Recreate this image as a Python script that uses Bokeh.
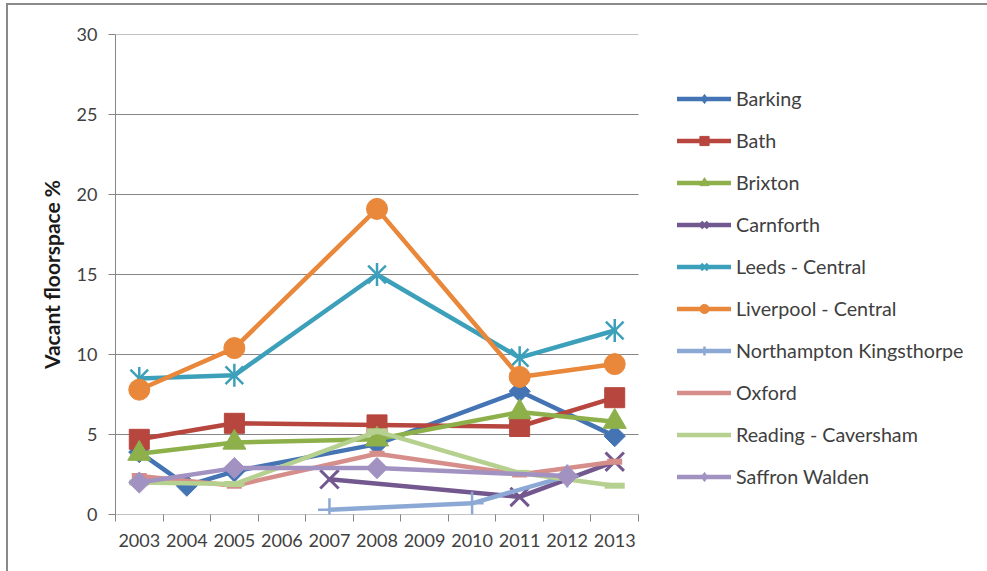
import math

from bokeh.embed import file_html
from bokeh.models import FixedTicker, Legend, LegendItem, Range1d
from bokeh.plotting import figure
from bokeh.resources import INLINE

# Survey years (category axis)
years = ["2003", "2004", "2005", "2006", "2007", "2008",
         "2009", "2010", "2011", "2012", "2013"]
y_ticks = [0, 5, 10, 15, 20, 25, 30]

# Vacant floorspace % per centre; None = no survey that year
barking = [3.9, 1.8, 2.7, None, None, 4.4, None, None, 7.7, None, 4.9]
bath = [4.7, None, 5.7, None, None, 5.6, None, None, 5.5, None, 7.3]
brixton = [3.8, None, 4.5, None, None, 4.7, None, None, 6.4, None, 5.8]
carnforth = [None, None, None, None, 2.2, None, None, None, 1.1, None, 3.3]
leeds = [8.5, None, 8.7, None, None, 15.0, None, None, 9.8, None, 11.5]
liverpool = [7.8, None, 10.4, None, None, 19.1, None, None, 8.6, None, 9.4]
northampton = [None, None, None, None, 0.3, None, None, 0.7, None, 2.4, None]
oxford = [2.4, None, 1.8, None, None, 3.8, None, None, 2.5, None, 3.3]
reading = [2.0, None, 1.9, None, None, 5.2, None, None, 2.6, None, 1.8]
saffron = [2.0, None, 2.9, None, None, 2.9, None, None, None, 2.4, None]

names = ["Barking", "Bath", "Brixton", "Carnforth", "Leeds - Central",
         "Liverpool - Central", "Northampton Kingsthorpe", "Oxford",
         "Reading - Caversham", "Saffron Walden"]
series = [barking, bath, brixton, carnforth, leeds, liverpool,
          northampton, oxford, reading, saffron]
colors = ["#4474B4", "#B7463F", "#8DB04B", "#73588F", "#3DA0BA",
          "#E9873A", "#8CA9D6", "#D68E8B", "#B6D08F", "#A192C2"]

# marker layers per series: (marker, size, angle, line_width, in_legend)
DIAMOND = [("square", 15, math.pi / 4, 1, False), ("diamond", 12, 0, 1, True)]
markers = [
    DIAMOND,
    [("square", 20, 0, 1, True)],
    [("triangle", 23, 0, 1, True)],
    [("x", 26, 0, 3, True)],
    [("x", 25, 0, 2.5, True), ("dash", 23, math.pi / 2, 2.5, False)],
    [("circle", 21, 0, 1, True)],
    [("cross", 23, 0, 2.5, True)],
    [("dash", 15, 0, 6, False)],
    [("dash", 20, 0, 6, False)],
    DIAMOND,
]

FONT = "Lato"
GRID = "#868686"
TEXT = "#404040"
EDGE = "#8a8a8a"

W, H = 987, 571
LEFT, TOP, BOTTOM = 115, 34, 57
PLOT_W = 523          # width of the gridded plot area in px

xs_all = [int(y) for y in years]
x_lo, x_hi = xs_all[0] - 0.5, xs_all[-1] + 0.5
# the frame runs on to the right edge so the legend can sit inside it
x_end = x_lo + (x_hi - x_lo) * (W - LEFT) / PLOT_W

# chart-area frame on the left and top edges, drawn as the page background
frame_bg = (f"linear-gradient({EDGE},{EDGE}) 6px 3px / 2px 570px no-repeat, "
            f"linear-gradient({EDGE},{EDGE}) 6px 3px / 990px 2px no-repeat, white")

p = figure(width=W, height=H, output_backend="svg", toolbar_location=None,
           x_range=Range1d(x_lo, x_end), y_range=Range1d(y_ticks[0], y_ticks[-1]),
           min_border_left=LEFT, min_border_right=0,
           min_border_top=TOP, min_border_bottom=BOTTOM,
           styles={"background": frame_bg})
p.outline_line_color = None
p.background_fill_color = "white"
p.border_fill_alpha = 0
p.grid.grid_line_color = None

# horizontal gridlines only across the category span
p.segment(x0=[x_lo] * len(y_ticks), y0=y_ticks, x1=[x_hi] * len(y_ticks), y1=y_ticks,
          line_color=GRID, line_width=1)

yax = p.yaxis[0]
yax.ticker = FixedTicker(ticks=y_ticks)
yax.axis_line_color = GRID
yax.major_tick_line_color = GRID
yax.major_tick_out = 7
yax.major_tick_in = 0
yax.minor_tick_line_color = None
yax.major_label_standoff = 11
yax.major_label_text_font = FONT
yax.major_label_text_font_size = "18px"
yax.major_label_text_color = TEXT
yax.axis_label = "Vacant floorspace %"
yax.axis_label_text_font = FONT
yax.axis_label_text_font_size = "21px"
yax.axis_label_text_font_style = "bold"
yax.axis_label_text_color = "#1a1a1a"
yax.axis_label_standoff = 10

xax = p.xaxis[0]
xax.ticker = FixedTicker(ticks=xs_all,
                         minor_ticks=[x - 0.5 for x in xs_all] + [x_hi])
xax.major_label_overrides = {x: y for x, y in zip(xs_all, years)}
xax.axis_line_color = None
xax.major_tick_line_color = None
xax.major_tick_out = 0
xax.major_tick_in = 0
xax.minor_tick_line_color = GRID
xax.minor_tick_out = 7
xax.minor_tick_in = 0
xax.major_label_standoff = 12
xax.major_label_text_font = FONT
xax.major_label_text_font_size = "18px"
xax.major_label_text_color = TEXT

items = []
for name, vals, color, mk in zip(names, series, colors, markers):
    xs = [x for x, v in zip(xs_all, vals) if v is not None]
    ys = [v for v in vals if v is not None]
    rs = [p.line(xs, ys, line_color=color, line_width=4.5,
                 line_join="round", line_cap="round")]
    for marker, size, angle, lw, in_legend in mk:
        r = p.scatter(xs, ys, marker=marker, size=size, angle=angle,
                      fill_color=color, line_color=color, line_width=lw)
        if in_legend:
            rs.append(r)
    items.append(LegendItem(label=name, renderers=rs))

legend = Legend(items=items, location=(562, 26), orientation="vertical",
                glyph_width=54, glyph_height=23, label_height=23, spacing=19,
                padding=0, margin=0, label_standoff=5,
                border_line_color=None, background_fill_alpha=0,
                label_text_font=FONT, label_text_font_size="19.7px",
                label_text_color=TEXT, label_text_baseline="middle")
p.add_layout(legend)

open("out.html", "w").write(file_html(p, INLINE))
